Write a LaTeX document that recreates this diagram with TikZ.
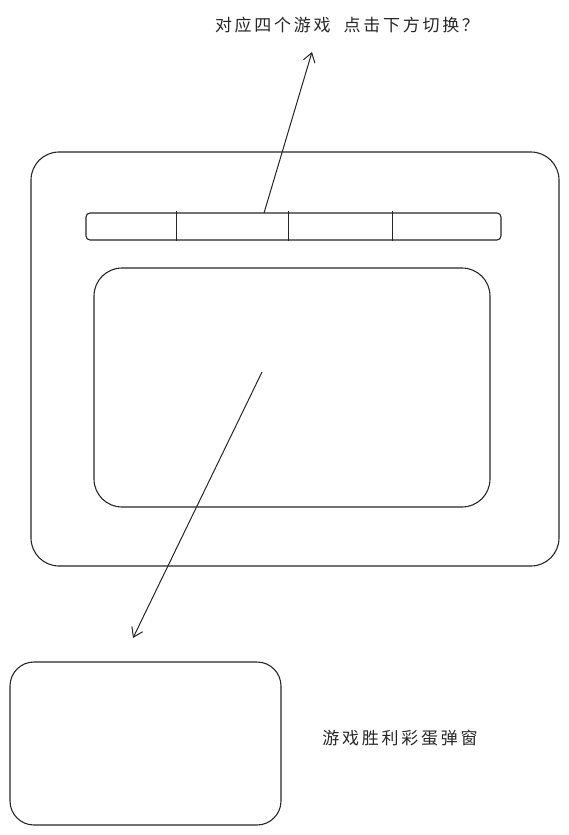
\documentclass[tikz,border=0pt]{standalone}
\usepackage{fontspec}
\newfontfamily\cjk[LetterSpace=16]{Noto Sans CJK SC}
\usetikzlibrary{arrows.meta, positioning}

\begin{document}
\begin{tikzpicture}[x=1pt, y=-1pt]
\tikzstyle{frame} = [rectangle, rounded corners=28pt, draw=black!85, line width=1.1pt, inner sep=0pt]
\tikzstyle{bar} = [rectangle, rounded corners=4pt, draw=black!85, line width=1.1pt, inner sep=0pt]
\tikzstyle{label} = [font=\cjk\fontsize{17}{20}\selectfont, text=black!85, inner sep=0pt]
\tikzstyle{arrow} = [draw=black!85, line width=1pt, -{Straight Barb[length=9pt, width=12pt]}]

\useasboundingbox (0,0) rectangle (569,835);

\node [frame, minimum width=528pt, minimum height=414pt] (v1) at (295,359) {};
\node [bar, minimum width=415pt, minimum height=27pt] (v2) at (293.5,226.5) {};
\node [frame, minimum width=396pt, minimum height=239pt] (v3) at (292,387.5) {};
\node [frame, rounded corners=24pt, minimum width=271pt, minimum height=163pt] (v4) at (145.5,743.5) {};

% tabs in the bar
\foreach \x in {176,288,392}
  \draw [draw=black!85, line width=1pt] (\x,211) -- (\x,241);

\node [label] (v5) at (347,25) {对应四个游戏\ \ 点击下方切换？};
\node [label] (v6) at (400,738) {游戏胜利彩蛋弹窗};

\coordinate (c1) at (264,213);
\coordinate (c2) at (312,52);
\coordinate (c3) at (262,372);
\coordinate (c4) at (133,638);
\draw [arrow] (c1) -- (c2);
\draw [arrow] (c3) -- (c4);
\end{tikzpicture}
\end{document}
